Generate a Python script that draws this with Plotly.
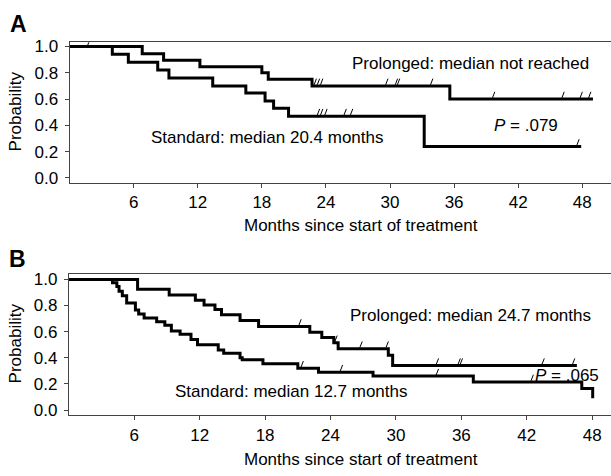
import numpy as np
import plotly.graph_objects as go

# ---------------- data ----------------
# Panel A
a_pro_t = [0, 6.8, 8.8, 12.2, 18.0, 18.6, 22.7, 35.6, 49.0]
a_pro_s = [1.0, 0.945, 0.895, 0.845, 0.80, 0.75, 0.70, 0.60, 0.60]
a_pro_cens = [1.8, 23.0, 23.3, 23.6, 29.7, 30.6, 30.8, 33.9, 39.7, 46.2, 47.9, 48.7]

a_std_t = [0, 4.0, 5.5, 8.25, 9.3, 13.4, 16.5, 18.3, 19.1, 20.5, 33.2, 47.9]
a_std_s = [1.0, 0.94, 0.88, 0.82, 0.76, 0.70, 0.645, 0.585, 0.53, 0.47, 0.24, 0.24]
a_std_cens = [23.3, 23.6, 24.0, 25.8, 26.4, 47.6]

# Panel B
b_pro_t = [0, 6.3, 9.2, 11.6, 12.4, 13.4, 14.0, 15.7, 17.4, 22.1, 23.2, 24.3, 24.7, 29.3, 29.7, 46.6]
b_pro_s = [1.0, 0.925, 0.88, 0.84, 0.805, 0.77, 0.73, 0.685, 0.64, 0.595, 0.555, 0.515, 0.47, 0.42, 0.34, 0.34]
b_pro_cens = [21.2, 24.5, 26.8, 29.2, 33.8, 35.8, 36.0, 43.5, 46.3]

b_std_t = [0, 4.0, 4.4, 4.6, 4.9, 5.3, 6.1, 6.4, 6.9, 8.05, 8.8, 9.4, 10.2, 11.2, 11.8,
           13.7, 14.2, 15.7, 15.9, 17.8, 21.0, 22.9, 27.9, 37.1, 47.05, 48.05]
b_std_s = [1.0, 0.975, 0.945, 0.91, 0.875, 0.82, 0.765, 0.735, 0.705, 0.675, 0.65, 0.605, 0.58,
           0.54, 0.50, 0.46, 0.435, 0.40, 0.385, 0.355, 0.32, 0.29, 0.26, 0.215, 0.165, 0.09]
b_std_cens = [21.4, 25.0, 33.8, 42.5]

x_ticks = [6, 12, 18, 24, 30, 36, 42, 48]
y_ticks = [0.0, 0.2, 0.4, 0.6, 0.8, 1.0]
y_tick_text = ["0.0", "0.2", "0.4", "0.6", "0.8", "1.0"]

x_title = "Months since start of treatment"
y_title = "Probability"

# ---------------- styling ----------------
FONT = "Liberation Sans, Arial, Helvetica, sans-serif"
W, H = 611, 476
MARK_DX = 0.11   # half-width of censor slash (months)
MARK_Y0 = 0.008  # slash bottom above curve
MARK_Y1 = 0.055  # slash top above curve


def level_at(t_list, s_list, times):
    t = np.asarray(t_list)
    s = np.asarray(s_list)
    idx = np.searchsorted(t, np.asarray(times), side="right") - 1
    return s[idx]


def slash_segments(t, s, cens):
    lv = level_at(t, s, cens)
    xs, ys = [], []
    for c, l in zip(cens, lv):
        xs += [c - MARK_DX, c + MARK_DX, None]
        ys += [l + MARK_Y0, l + MARK_Y1, None]
    return xs, ys


fig = go.Figure()

panels = [
    ("x", "y", a_pro_t, a_pro_s, a_pro_cens, a_std_t, a_std_s, a_std_cens),
    ("x2", "y2", b_pro_t, b_pro_s, b_pro_cens, b_std_t, b_std_s, b_std_cens),
]
for xa, ya, pt, ps, pc, st, ss, sc in panels:
    for t, s, c in [(pt, ps, pc), (st, ss, sc)]:
        fig.add_trace(go.Scatter(x=t, y=s, mode="lines", line=dict(color="black", width=3, shape="hv"),
                                 xaxis=xa, yaxis=ya, showlegend=False, hoverinfo="skip"))
        mx, my = slash_segments(t, s, c)
        fig.add_trace(go.Scatter(x=mx, y=my, mode="lines", line=dict(color="black", width=1),
                                 xaxis=xa, yaxis=ya, showlegend=False, hoverinfo="skip",
                                 connectgaps=False))

axis_common = dict(showgrid=False, zeroline=False, showline=True, linecolor="#444", linewidth=1,
                   ticks="outside", ticklen=4, tickwidth=1, tickcolor="#444",
                   tickfont=dict(family=FONT, size=17, color="black"))

fig.update_layout(
    width=W, height=H, margin=dict(l=0, r=0, t=0, b=0),
    paper_bgcolor="white", plot_bgcolor="white",
    xaxis=dict(domain=[69.6 / W, 1.0], range=[0, 50.69], tickvals=x_ticks, mirror=True,
               anchor="y", ticklabelstandoff=0, **axis_common),
    yaxis=dict(domain=[(H - 181.7) / H, (H - 38) / H], range=[-0.0372, 1.032], tickvals=y_ticks,
               ticktext=y_tick_text, anchor="x", ticklabelstandoff=3, **axis_common),
    xaxis2=dict(domain=[68.9 / W, 1.0], range=[0, 49.73], tickvals=x_ticks, mirror=True,
                anchor="y2", ticklabelstandoff=0, **axis_common),
    yaxis2=dict(domain=[(H - 419) / H, (H - 274.3) / H], range=[-0.0397, 1.045], tickvals=y_ticks,
                ticktext=y_tick_text, anchor="x2", ticklabelstandoff=3, **axis_common),
)

txt = dict(family=FONT, size=17, color="black")
ann = [
    # panel labels
    dict(text="<b>A</b>", x=18 / W, y=1 - 19 / H, xref="paper", yref="paper",
         font=dict(family=FONT, size=23, color="black")),
    dict(text="<b>B</b>", x=17 / W, y=1 - 259.5 / H, xref="paper", yref="paper",
         font=dict(family=FONT, size=23, color="black")),
    # axis titles
    dict(text=y_title, x=15.7 / W, y=1 - 109 / H, xref="paper", yref="paper", textangle=-90, font=txt),
    dict(text=y_title, x=15.7 / W, y=1 - 346 / H, xref="paper", yref="paper", textangle=-90, font=txt),
    dict(text=x_title, x=361 / W, y=1 - 225 / H, xref="paper", yref="paper", font=txt),
    dict(text=x_title, x=361 / W, y=1 - 464 / H, xref="paper", yref="paper", font=txt),
    # panel A labels
    dict(text="Prolonged: median not reached", x=37.5, y=0.868, xref="x", yref="y", font=txt),
    dict(text="Standard: median 20.4 months", x=18.45, y=0.31, xref="x", yref="y", font=txt),
    dict(text="<i>P</i> = .079", x=42.7, y=0.402, xref="x", yref="y", font=txt),
    # panel B labels
    dict(text="Prolonged: median 24.7 months", x=36.87, y=0.723, xref="x2", yref="y2", font=txt),
    dict(text="Standard: median 12.7 months", x=20.4, y=0.139, xref="x2", yref="y2", font=txt),
    dict(text="<i>P</i> = .065", x=45.7, y=0.262, xref="x2", yref="y2", font=txt),
]
for a in ann:
    a.setdefault("showarrow", False)
    a.setdefault("xanchor", "center")
    a.setdefault("yanchor", "middle")
fig.update_layout(annotations=ann)

fig.write_html("out.html", config={"displayModeBar": False},
               post_script="document.body.style.margin='0px';document.body.style.overflow='hidden';")
